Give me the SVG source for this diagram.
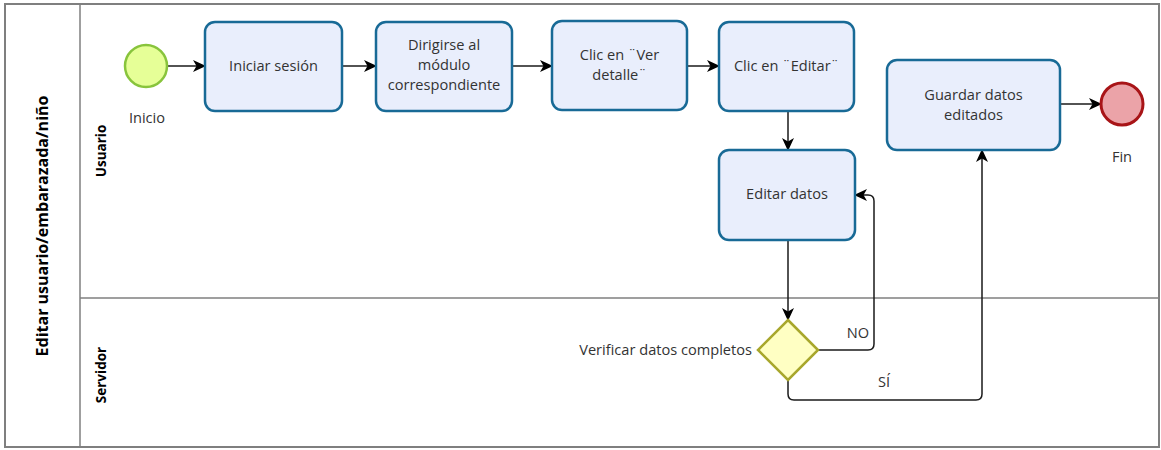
<svg xmlns="http://www.w3.org/2000/svg" width="1161" height="450" viewBox="0 0 1161 450">
  <style>
    .pool { fill: #ffffff; stroke: #7f7f7f; stroke-width: 2; }
    .lane-line { stroke: #7f7f7f; stroke-width: 1.5; fill: none; }
    .task { fill: #e9eefc; stroke: #186a96; stroke-width: 2.5; }
    .txt { font-family: "Open Sans", "Liberation Sans", sans-serif; font-size: 14.6px; fill: #333333; text-anchor: middle; }
    .hdr { font-family: "Open Sans", "Liberation Sans", sans-serif; font-weight: bold; fill: #000000; text-anchor: middle; }
    .flow { fill: none; stroke: #1a1a1a; stroke-width: 1.5; marker-end: url(#arrow); }
  </style>
  <defs>
    <marker id="arrow" viewBox="0 0 13 12" refX="12" refY="6" markerWidth="13" markerHeight="12" markerUnits="userSpaceOnUse" orient="auto">
      <path d="M0,0 L13,6 L0,12 L3.5,6 Z" fill="#000000"/>
    </marker>
  </defs>

  <!-- pool frame and lanes -->
  <g id="pool">
    <rect class="pool" x="5" y="4" width="1154" height="443"/>
    <line class="lane-line" x1="80" y1="4" x2="80" y2="447"/>
    <line class="lane-line" x1="80" y1="298" x2="1159" y2="298"/>
    <text class="hdr" font-size="16" transform="translate(48,226) rotate(-90)">Editar usuario/embarazada/niño</text>
    <text class="hdr" font-size="13.5" transform="translate(106,151) rotate(-90)">Usuario</text>
    <text class="hdr" font-size="13.5" transform="translate(106,375) rotate(-90)">Servidor</text>
  </g>

  <!-- sequence flows -->
  <g id="connectors">
    <path class="flow" d="M168,66 L205,66"/>
    <path class="flow" d="M342,66 L376,66"/>
    <path class="flow" d="M512,66 L552,66"/>
    <path class="flow" d="M687,66 L719,66"/>
    <path class="flow" d="M788,111 L788,150"/>
    <path class="flow" d="M788,240 L788,320"/>
    <path class="flow" d="M818,350 L868,350 Q874,350 874,344 L874,201 Q874,195 868,195 L855,195"/>
    <path class="flow" d="M788,380 L788,394 Q788,400 794,400 L976,400 Q982,400 982,394 L982,150"/>
    <path class="flow" d="M1060,104 L1101,104"/>
    <text class="txt" x="858" y="338">NO</text>
    <text class="txt" x="884" y="387">SÍ</text>
  </g>

  <g id="inicio">
    <circle cx="146" cy="66" r="21" fill="#e6ff97" stroke="#88c43c" stroke-width="2.5"/>
    <text class="txt" x="147" y="123">Inicio</text>
  </g>

  <g id="iniciar-sesion">
    <rect class="task" x="205" y="22" width="137" height="89" rx="10"/>
    <text class="txt" x="273.5" y="71">Iniciar sesión</text>
  </g>

  <g id="dirigirse-modulo">
    <rect class="task" x="376" y="22" width="136" height="89" rx="10"/>
    <text class="txt" x="444" y="50">Dirigirse al</text>
    <text class="txt" x="444" y="70">módulo</text>
    <text class="txt" x="444" y="90">correspondiente</text>
  </g>

  <g id="clic-ver-detalle">
    <rect class="task" x="552" y="21" width="135" height="89" rx="10"/>
    <text class="txt" x="619.5" y="60">Clic en ¨Ver</text>
    <text class="txt" x="619.5" y="80">detalle¨</text>
  </g>

  <g id="clic-editar">
    <rect class="task" x="719" y="22" width="135" height="89" rx="10"/>
    <text class="txt" x="786.5" y="71">Clic en ¨Editar¨</text>
  </g>

  <g id="editar-datos">
    <rect class="task" x="719" y="150" width="136" height="90" rx="10"/>
    <text class="txt" x="787" y="199">Editar datos</text>
  </g>

  <g id="guardar-datos">
    <rect class="task" x="887" y="60" width="173" height="90" rx="10"/>
    <text class="txt" x="973.5" y="100">Guardar datos</text>
    <text class="txt" x="973.5" y="120">editados</text>
  </g>

  <g id="verificar-datos">
    <polygon points="788,320 818,350 788,380 758,350" fill="#ffffc3" stroke="#a8a72c" stroke-width="2.5"/>
    <text class="txt" x="752" y="355" style="text-anchor: end">Verificar datos completos</text>
  </g>

  <g id="fin">
    <circle cx="1122" cy="104" r="21" fill="#eba3a8" stroke="#a81417" stroke-width="3"/>
    <text class="txt" x="1122" y="162">Fin</text>
  </g>
</svg>
